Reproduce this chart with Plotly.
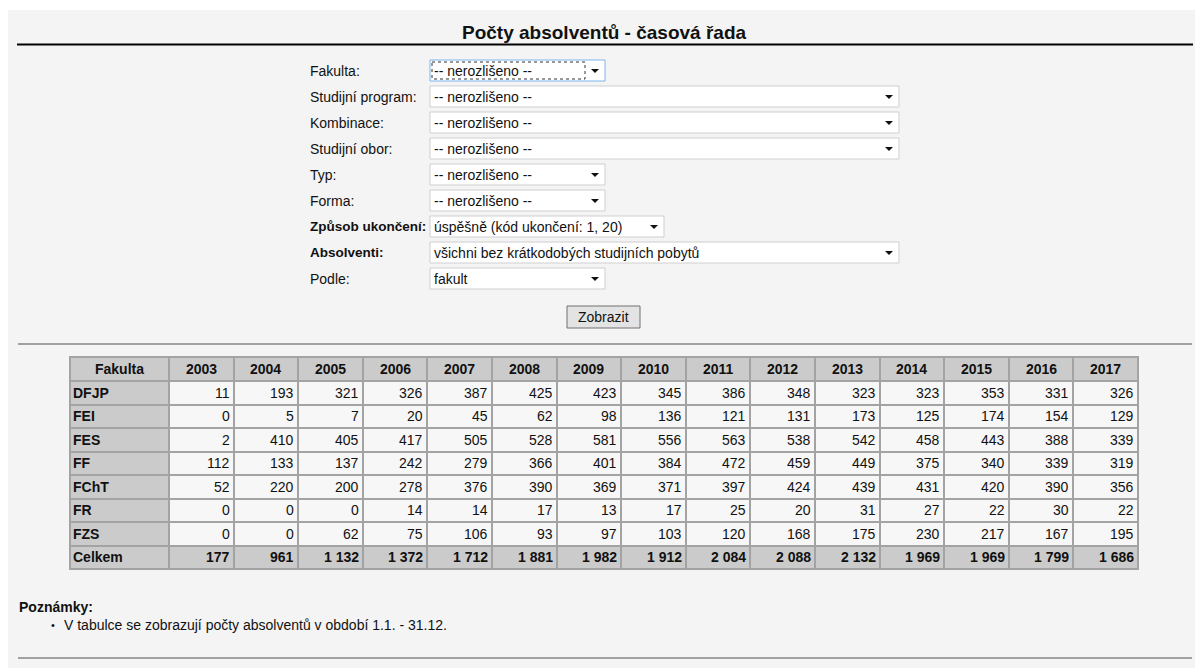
import plotly.graph_objects as go

W, H = 1203, 668
OFF = 8  # the page body has an 8px margin; axes are laid out in window pixels
FONT = "Liberation Sans, Arial, sans-serif"
FS = 14

# --- data -------------------------------------------------------------
years = ['2003', '2004', '2005', '2006', '2007', '2008', '2009', '2010',
         '2011', '2012', '2013', '2014', '2015', '2016', '2017']
faculties = ['DFJP', 'FEI', 'FES', 'FF', 'FChT', 'FR', 'FZS']
dfjp = [11, 193, 321, 326, 387, 425, 423, 345, 386, 348, 323, 323, 353, 331, 326]
fei = [0, 5, 7, 20, 45, 62, 98, 136, 121, 131, 173, 125, 174, 154, 129]
fes = [2, 410, 405, 417, 505, 528, 581, 556, 563, 538, 542, 458, 443, 388, 339]
ff = [112, 133, 137, 242, 279, 366, 401, 384, 472, 459, 449, 375, 340, 339, 319]
fcht = [52, 220, 200, 278, 376, 390, 369, 371, 397, 424, 439, 431, 420, 390, 356]
fr = [0, 0, 0, 14, 14, 17, 13, 17, 25, 20, 31, 27, 22, 30, 22]
fzs = [0, 0, 62, 75, 106, 93, 97, 103, 120, 168, 175, 230, 217, 167, 195]
celkem = [177, 961, 1132, 1372, 1712, 1881, 1982, 1912, 2084, 2088, 2132,
          1969, 1969, 1799, 1686]

form_labels = ['Fakulta:', 'Studijní program:', 'Kombinace:', 'Studijní obor:',
               'Typ:', 'Forma:', 'Způsob ukončení:', 'Absolventi:', 'Podle:']
form_values = ['-- nerozlišeno --', '-- nerozlišeno --', '-- nerozlišeno --',
               '-- nerozlišeno --', '-- nerozlišeno --', '-- nerozlišeno --',
               'úspěšně (kód ukončení: 1, 20)',
               'všichni bez krátkodobých studijních pobytů', 'fakult']
bold_labels = ['Způsob ukončení:', 'Absolventi:']

title = 'Počty absolventů - časová řada'
note_head = 'Poznámky:'
note = 'V tabulce se zobrazují počty absolventů v období 1.1. - 31.12.'


def fmt(v):
    return f"{v:,}".replace(",", "\u00a0")


def txt(x, y, s, anchor='left', size=FS, bold=False):
    return dict(x=x, y=y, text=f'<b>{s}</b>' if bold else s, showarrow=False,
                xanchor=anchor, yanchor='middle',
                font=dict(size=size, color='#111', family=FONT))


shapes = []
annotations = []

# page background and title
shapes.append(dict(type='rect', x0=6, x1=W, y0=10, y1=H,
                   fillcolor='#f4f4f4', line=dict(width=0), layer='below'))
annotations.append(txt(604, 32, title, anchor='center', size=19, bold=True))
shapes.append(dict(type='line', x0=17, x1=1193, y0=44.5, y1=44.5,
                   line=dict(color='#000', width=2)))

# form rows
box_right = [605, 899, 899, 899, 605, 605, 664, 899, 605]
for i, (lab, val) in enumerate(zip(form_labels, form_values)):
    top = 60 + 26 * i
    cy = top + 10.5
    is_bold = lab in bold_labels
    annotations.append(txt(308, cy, lab, size=13.5 if is_bold else FS, bold=is_bold))
    border = '#7eb4ea' if i == 0 else '#cfcfcf'
    shapes.append(dict(type='rect', x0=430, x1=box_right[i], y0=top, y1=top + 21,
                       fillcolor='white', line=dict(color=border, width=1)))
    annotations.append(txt(432, cy, val))
    ax = box_right[i] - 10
    shapes.append(dict(type='path',
                       path=f'M {ax-4},{cy-1.5} L {ax+4},{cy-1.5} L {ax},{cy+2.5} Z',
                       fillcolor='#111', line=dict(width=0)))
    if i == 0:
        shapes.append(dict(type='rect', x0=432, x1=585, y0=top + 2, y1=top + 19,
                           line=dict(color='#333', width=1, dash='dot')))

# button
shapes.append(dict(type='rect', x0=567, x1=640, y0=306, y1=328,
                   fillcolor='#e3e3e3', line=dict(color='#707070', width=1)))
annotations.append(txt(603.5, 317, 'Zobrazit', anchor='center'))

# separators
for yy in (344, 658):
    shapes.append(dict(type='line', x0=18, x1=1192, y0=yy, y1=yy,
                       line=dict(color='#a0a0a0', width=2)))

# notes
annotations.append(txt(17, 607, note_head, bold=True))
annotations.append(txt(49, 625, '\u2022', size=11))
annotations.append(txt(62, 625, note))

# --- table (heatmap bricks for the cells, text in each cell) ----------------
rows = [dfjp, fei, fes, ff, fcht, fr, fzs]
n_cols = len(years) + 1
n_rows = len(faculties) + 2  # header + faculties + total

TX0, TY0 = 70, 357
col_w = [99] + [64.6] * len(years)
row_h = [24] + [23.5] * (n_rows - 1)
x_edges = [TX0]
for w in col_w:
    x_edges.append(x_edges[-1] + w)
y_edges = [TY0]
for h in row_h:
    y_edges.append(y_edges[-1] + h)

z = []
for r in range(n_rows):
    z.append([1 if (r == 0 or r == n_rows - 1 or c == 0) else 0 for c in range(n_cols)])

# grey border behind the bricks
shapes.append(dict(type='rect', x0=x_edges[0] - 1, x1=x_edges[-1] + 1,
                   y0=y_edges[0] - 1, y1=y_edges[-1] + 1,
                   fillcolor='#a3a3a3', line=dict(width=0), layer='below'))

cell_text = [['Fakulta'] + years]
for f, r in zip(faculties, rows):
    cell_text.append([f] + [fmt(v) for v in r])
cell_text.append(['Celkem'] + [fmt(v) for v in celkem])

for r in range(n_rows):
    cy = (y_edges[r] + y_edges[r + 1]) / 2
    for c in range(n_cols):
        s = cell_text[r][c]
        bold = r == 0 or c == 0 or r == n_rows - 1
        if r == 0:
            annotations.append(txt((x_edges[c] + x_edges[c + 1]) / 2, cy, s,
                                   anchor='center', bold=True))
        elif c == 0:
            annotations.append(txt(x_edges[c] + 1, cy, s, bold=True))
        else:
            annotations.append(txt(x_edges[c + 1] - 2, cy, s, anchor='right', bold=bold))

fig = go.Figure()
fig.add_trace(go.Heatmap(
    x=x_edges, y=y_edges, z=z,
    colorscale=[[0, '#f7f7f7'], [1, '#cbcbcb']], zmin=0, zmax=1,
    xgap=2, ygap=2, showscale=False, hoverinfo='skip',
))

fig.update_layout(
    width=W - OFF, height=H - OFF,
    margin=dict(l=0, r=0, t=0, b=0),
    paper_bgcolor='white', plot_bgcolor='rgba(0,0,0,0)',
    xaxis=dict(range=[OFF, W], visible=False, fixedrange=True),
    yaxis=dict(range=[H, OFF], visible=False, fixedrange=True),
    shapes=shapes, annotations=annotations,
    showlegend=False,
)

fig.write_html("out.html")
